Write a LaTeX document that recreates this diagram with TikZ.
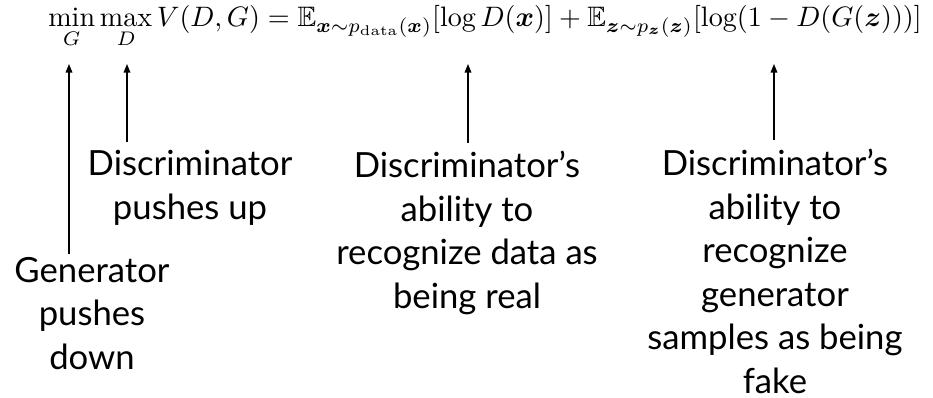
\documentclass[tikz,border=0pt]{standalone}
\usepackage{amsmath,amssymb,bm}
\usepackage{fontspec}
\newfontfamily\lato{Lato}
\usetikzlibrary{arrows.meta}
\tikzset{
  lbl/.style={font=\lato\fontsize{26}{32.6}\selectfont, align=center, inner sep=0pt, anchor=north},
  arr/.style={-{Triangle[length=6.5pt,width=5pt]}, line width=1.1pt, black},
}
\begin{document}
\begin{tikzpicture}[x=0.75pt,y=-0.75pt]
\useasboundingbox (0,0) rectangle (933,398);
\node[anchor=base, inner sep=0pt] (eq) at (485,27) {\resizebox{655pt}{!}{$\displaystyle \min_G \max_D V(D,G) = \mathbb{E}_{\bm{x}\sim p_{\mathrm{data}}(\bm{x})}[\log D(\bm{x})] + \mathbb{E}_{\bm{z}\sim p_{\bm{z}}(\bm{z})}[\log(1-D(G(\bm{z})))]$}};
\coordinate (gtip) at (69,64);
\coordinate (dtip) at (127,64);
\coordinate (rtip) at (468,64);
\coordinate (ftip) at (774,64);
\node[lbl] (gen) at (92,257) {Generator\\pushes\\down};
\node[lbl] (dis) at (190,150) {Discriminator\\pushes up};
\node[lbl] (real) at (467,151) {Discriminator’s\\ability to\\recognize data as\\being real};
\node[lbl] (fake) at (775,149) {Discriminator’s\\ability to\\recognize\\generator\\samples as being\\fake};
\draw[arr] ([yshift=2pt]gen.north -| gtip) -- (gtip);
\draw[arr] ([yshift=6pt]dis.north -| dtip) -- (dtip);
\draw[arr] ([yshift=6pt]real.north -| rtip) -- (rtip);
\draw[arr] ([yshift=7pt]fake.north -| ftip) -- (ftip);
\end{tikzpicture}
\end{document}
